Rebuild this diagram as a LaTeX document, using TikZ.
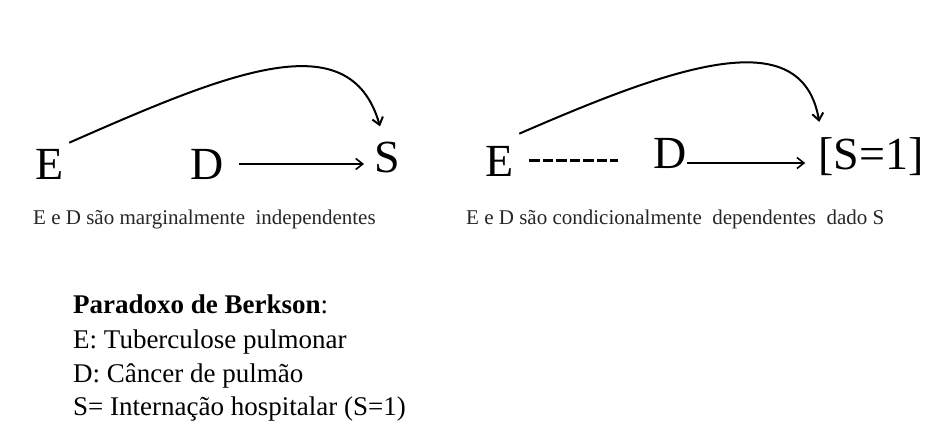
\documentclass[tikz,border=0pt]{standalone}
\usepackage{fontspec}
\setmainfont{Liberation Serif}
\usetikzlibrary{arrows.meta}

\tikzset{
  var/.style={inner sep=0pt, anchor=base, font=\fontsize{46}{50}\selectfont},
  capt/.style={inner sep=0pt, anchor=base west, text=black!85, font=\fontsize{21}{25}\selectfont},
  info/.style={inner sep=0pt, anchor=base west, font=\fontsize{27}{30}\selectfont},
  arr/.style={line width=1.6pt, -{Straight Barb[length=7pt,width=11pt,line width=1.6pt]}},
  curved/.style={line width=2pt, -{Straight Barb[length=7pt,width=11pt,line width=2pt]}},
  dep/.style={line width=3pt, dash pattern=on 10.5pt off 3pt}
}

\begin{document}
\begin{tikzpicture}[x=1pt, y=-1pt]
\useasboundingbox (0,0) rectangle (934,426);

% --- Left: marginal independence ---
\node[var] (el) at (50,179) {E};
\node[var] (dl) at (207,179) {D};
\node[var] (sl) at (387,172) {S};

\draw[arr, shorten <=15pt, shorten >=10pt] (dl.east) -- (dl.east -| sl.west);
\draw[curved] ([shift={(5,-6)}]el.north east) .. controls (230,72) and (350,22) .. ([shift={(-7,-15)}]sl.north);

\node[capt] (capl) at (33,224) {E e D são marginalmente\ \ independentes};

% --- Right: conditioning on S ---
\node[var] (er) at (500,176) {E};
\node[var] (dr) at (670,168) {D};
\node[var] (sr) at (871,169) {[S=1]};

\draw[dep, shorten <=15pt, shorten >=35pt] (er.east) -- (er.east -| dr.west);
\coordinate (dout) at ([shift={(0,-5)}]dr.base east);
\draw[arr, shorten >=13pt] (dout) -- (dout -| sr.west);
\draw[curved] ([shift={(5,-12)}]er.north east) .. controls (675,66) and (802,21) .. ([shift={(1,-15)}]sr.north west);

\node[capt] (capr) at (466,224) {E e D são condicionalmente\ \ dependentes\ \ dado S};

% --- Legend ---
\node[info] (title) at (73,313) {\textbf{Paradoxo de Berkson}:};
\node[info] (lne) at (73,348) {E: Tuberculose pulmonar};
\node[info] (lnd) at (73,382) {D: Câncer de pulmão};
\node[info] (lns) at (73,415) {S= Internação hospitalar (S=1)};

\end{tikzpicture}
\end{document}
